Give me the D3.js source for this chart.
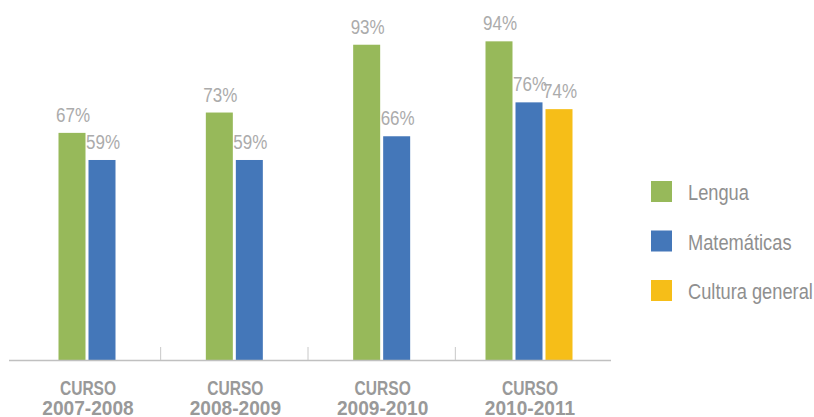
<!DOCTYPE html>
<html>
<head>
<meta charset="utf-8">
<script src="https://cdn.jsdelivr.net/npm/d3@7"></script>
<style>
  body { margin: 0; background: #fff; }
  text { font-family: "Liberation Sans", Arial, sans-serif; }
</style>
</head>
<body>
<div id="chart"></div>
<script>
const categories = ["CURSO\n2007-2008", "CURSO\n2008-2009", "CURSO\n2009-2010", "CURSO\n2010-2011"];
const seriesNames = ["Lengua", "Matemáticas", "Cultura general"];
const lengua = [67, 73, 93, 94];
const matematicas = [59, 59, 66, 76];
const cultura = [null, null, null, 74];
const colors = ["#97b95a", "#4477b9", "#f6be18"];

const width = 814, height = 417;
const baseY = 360;

// no narrow font installed, so squeeze the glyphs horizontally
function condense(sel, ratio) {
    sel.each(function (d, i) {
        const r = typeof ratio === "function" ? ratio(d, i) : ratio;
        const len = this.getComputedTextLength();
        d3.select(this)
            .attr("textLength", len * r)
            .attr("lengthAdjust", "spacingAndGlyphs");
    });
}

const svg = d3.select("#chart").append("svg")
    .attr("width", width)
    .attr("height", height);

// scales
const x = d3.scalePoint()
    .domain(categories)
    .range([87, 529]);

const y = d3.scaleLinear()
    .domain([0, 100])
    .range([baseY, 21]);

const values = [lengua, matematicas, cultura];

// bars
categories.forEach((cat, ci) => {
    const present = seriesNames.filter((s, si) => values[si][ci] != null);
    const step = 30;
    const inner = d3.scaleBand()
        .domain(present)
        .range([x(cat) - step * present.length / 2, x(cat) + step * present.length / 2])
        .paddingInner(0.1)
        .paddingOuter(0.05);

    const g = svg.append("g");
    const rows = present.map(s => {
        const si = seriesNames.indexOf(s);
        return { name: s, value: values[si][ci], color: colors[si] };
    });

    g.selectAll("rect")
        .data(rows)
        .join("rect")
        .attr("x", d => inner(d.name))
        .attr("width", inner.bandwidth())
        .attr("y", d => y(d.value))
        .attr("height", d => baseY - y(d.value))
        .attr("fill", d => d.color);

    g.selectAll("text")
        .data(rows)
        .join("text")
        .attr("x", d => inner(d.name) + inner.bandwidth() / 2 + 1)
        .attr("y", d => y(d.value) - 11)
        .attr("text-anchor", "middle")
        .style("font-size", "20px")
        .attr("fill", "#ababab")
        .text(d => d.value + "%")
        .call(condense, 0.85);
});

// axis line
svg.append("line")
    .attr("x1", 9).attr("x2", 611)
    .attr("y1", baseY + 0.5).attr("y2", baseY + 0.5)
    .attr("stroke", "#c0c0c0")
    .attr("stroke-width", 1.5);

// separators between categories
const seps = d3.pairs(categories).map(([a, b]) => (x(a) + x(b)) / 2);
svg.selectAll(".sep")
    .data(seps)
    .join("line")
    .attr("class", "sep")
    .attr("x1", d => d).attr("x2", d => d)
    .attr("y1", 347).attr("y2", baseY)
    .attr("stroke", "#c8c8c8")
    .attr("stroke-width", 1);

// category labels
svg.selectAll(".cat")
    .data(categories)
    .join("text")
    .attr("class", "cat")
    .attr("text-anchor", "middle")
    .style("font-size", "21px")
    .style("font-weight", "bold")
    .attr("fill", "#999999")
    .each(function (d) {
        const lines = d.split("\n");
        d3.select(this).selectAll("tspan")
            .data(lines)
            .join("tspan")
            .attr("x", x(d) + 1)
            .attr("y", (l, i) => 395 + i * 20)
            .text(l => l)
            .call(condense, (l, i) => i === 0 ? 0.74 : 0.91);
    });

// legend
const legend = svg.append("g").attr("transform", "translate(651,181)");
const items = legend.selectAll("g")
    .data(seriesNames)
    .join("g")
    .attr("transform", (d, i) => `translate(0,${i * 49.5})`);

items.append("rect")
    .attr("width", 21)
    .attr("height", 21)
    .attr("fill", (d, i) => colors[i]);

items.append("text")
    .attr("x", 37)
    .attr("y", 19)
    .style("font-size", "22px")
    .attr("fill", "#8f8f8f")
    .text(d => d)
    .call(condense, 0.83);
</script>
</body>
</html>
